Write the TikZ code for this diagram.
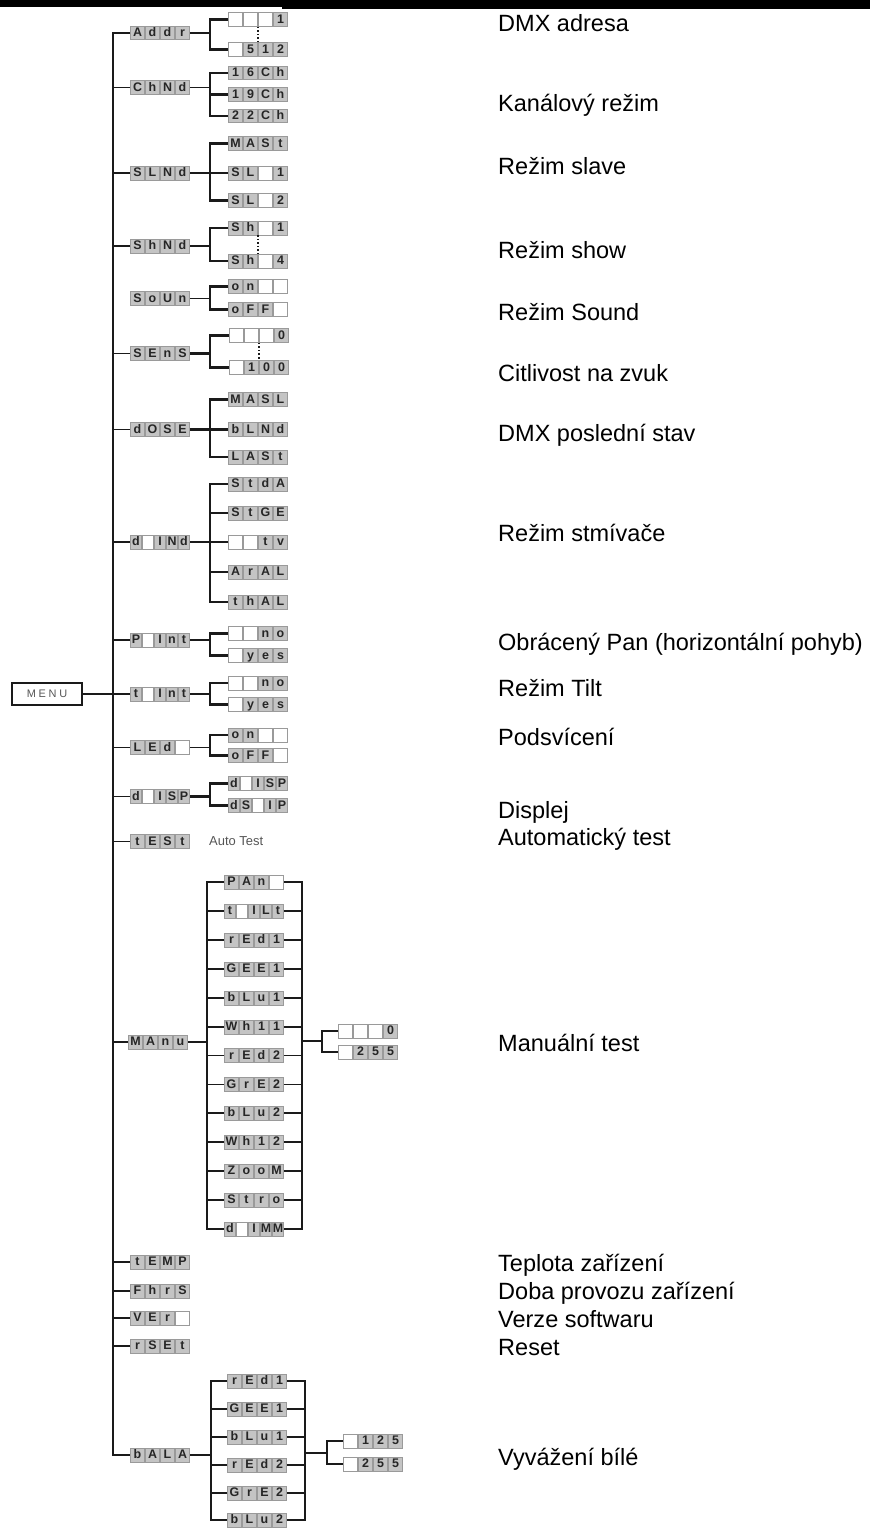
\documentclass[tikz,border=0pt]{standalone}
\usepackage{fontspec}
\setmainfont{Liberation Sans}
\newfontfamily\lcdfont{Liberation Sans}
\newfontfamily\menufont{Liberation Sans}[LetterSpace=25]
\definecolor{lcdbg}{HTML}{C4C4C4}
\definecolor{lcdtext}{HTML}{262626}
\definecolor{cellbd}{HTML}{9A9A9A}
\definecolor{lineblack}{HTML}{1A1A1A}
\definecolor{softgray}{HTML}{555555}
\newlength\cw
\setlength\cw{13.8bp}
\newcommand\lcdc[1]{{\setlength\fboxsep{0pt}\setlength\fboxrule{0.6bp}\fcolorbox{cellbd}{lcdbg}{\makebox[\cw]{\rule[-2.6bp]{0pt}{13bp}#1}}}}
\newcommand\lcdb{{\setlength\fboxsep{0pt}\setlength\fboxrule{0.6bp}\fcolorbox{cellbd}{white}{\makebox[\cw]{\rule[-2.6bp]{0pt}{13bp}}}}}
\newcommand\cellx[1]{\if\relax\detokenize{#1}\relax\lcdb\else\lcdc{#1}\fi}
\newcommand\dispfour[4]{\cellx{#1}\cellx{#2}\cellx{#3}\cellx{#4}}
\newcommand\dispfive[5]{\setlength\cw{10.8bp}\cellx{#1}\cellx{#2}\cellx{#3}\cellx{#4}\cellx{#5}}
\begin{document}
\begin{tikzpicture}[x=1bp,y=-1bp,
  lcd/.style={inner sep=0pt, outer sep=0pt, text=lcdtext, font=\lcdfont\bfseries\fontsize{12.5}{13}\selectfont},
  conn/.style={line width=1.4bp, draw=lineblack},
  brk/.style={line width=2.2bp, draw=lineblack},
  dotline/.style={line width=1.6bp, draw=lineblack, dotted},
  rlbl/.style={anchor=base west, inner sep=0pt, font=\fontsize{23.6}{28}\selectfont, text=black},
  menubox/.style={draw=lineblack, line width=1.3bp, minimum width=70bp, minimum height=22bp, inner sep=0pt, text=softgray, font=\menufont\fontsize{11}{12}\selectfont}
]
\useasboundingbox (0,0) rectangle (870,1528);
\clip (0,0) rectangle (870,1528);
\fill[black] (0,0) rectangle (282,7.5);
\fill[black] (282,0) rectangle (870,9.5);

\coordinate (tbot) at (113,1455);
\coordinate (bk) at (210,0);

% ---------- level 1 ----------
\node[lcd] (adda) at (160,33) {\dispfour{A}{d}{d}{r}};
\node[lcd] (chnd) at (160,87.5) {\dispfour{C}{h}{N}{d}};
\node[lcd] (slnd) at (160,173) {\dispfour{S}{L}{N}{d}};
\node[lcd] (shnd) at (160,246) {\dispfour{S}{h}{N}{d}};
\node[lcd] (soun) at (160,298.5) {\dispfour{S}{o}{U}{n}};
\node[lcd] (sens) at (160,353.5) {\dispfour{S}{E}{n}{S}};
\node[lcd] (dose) at (160,429.5) {\dispfour{d}{O}{S}{E}};
\node[lcd] (dimd) at (160,542) {\dispfive{d}{}{I}{N}{d}};
\node[lcd] (pint) at (160,640) {\dispfive{P}{}{I}{n}{t}};
\node[lcd] (tint) at (160,694) {\dispfive{t}{}{I}{n}{t}};
\node[lcd] (led) at (160,747.5) {\dispfour{L}{E}{d}{}};
\node[lcd] (disp) at (160,796.5) {\dispfive{d}{}{I}{S}{P}};
\node[lcd] (test) at (160,841.5) {\dispfour{t}{E}{S}{t}};
\node[lcd] (manu) at (158,1042) {\dispfour{M}{A}{n}{u}};
\node[lcd] (temp) at (160,1262) {\dispfour{t}{E}{M}{P}};
\node[lcd] (fhrs) at (160,1291) {\dispfour{F}{h}{r}{S}};
\node[lcd] (ver) at (160,1318) {\dispfour{V}{E}{r}{}};
\node[lcd] (rset) at (160,1346) {\dispfour{r}{S}{E}{t}};
\node[lcd] (bala) at (160,1455) {\dispfour{b}{A}{L}{A}};

\node[menubox] (menu) at (47,694) {MENU};
\node[anchor=west, inner sep=0pt, text=softgray, font=\fontsize{13}{14}\selectfont] (autotest) at (209,841.5) {Auto Test};

% trunk
\draw[conn] (adda.west) -| (tbot) -- (bala.west);
\foreach \n in {chnd,slnd,shnd,sens,dose,dimd,pint,tint,led,disp,test,manu,temp,fhrs,ver,rset}
  \draw[conn] (\n.west) -- (\n.west -| tbot);
\draw[conn] (menu.east) -- (menu.east -| tbot);

% ---------- sub items ----------
\node[lcd] (a1) at (258,19.5) {\dispfour{}{}{}{1}};
\node[lcd] (a2) at (258,49.5) {\dispfour{}{5}{1}{2}};
\node[lcd] (c1) at (258,73) {\dispfour{1}{6}{C}{h}};
\node[lcd] (c2) at (258,94.5) {\dispfour{1}{9}{C}{h}};
\node[lcd] (c3) at (258,116) {\dispfour{2}{2}{C}{h}};
\node[lcd] (s1) at (258,143.5) {\dispfour{M}{A}{S}{t}};
\node[lcd] (s2) at (258,173) {\dispfour{S}{L}{}{1}};
\node[lcd] (s3) at (258,200.5) {\dispfour{S}{L}{}{2}};
\node[lcd] (h1) at (258,228) {\dispfour{S}{h}{}{1}};
\node[lcd] (h2) at (258,261) {\dispfour{S}{h}{}{4}};
\node[lcd] (o1) at (258,286.5) {\dispfour{o}{n}{}{}};
\node[lcd] (o2) at (258,309.5) {\dispfour{o}{F}{F}{}};
\node[lcd] (e1) at (259,335.5) {\dispfour{}{}{}{0}};
\node[lcd] (e2) at (259,367.5) {\dispfour{}{1}{0}{0}};
\node[lcd] (d1) at (258,399.5) {\dispfour{M}{A}{S}{L}};
\node[lcd] (d2) at (258,429.5) {\dispfour{b}{L}{N}{d}};
\node[lcd] (d3) at (258,457) {\dispfour{L}{A}{S}{t}};
\node[lcd] (i1) at (258,484) {\dispfour{S}{t}{d}{A}};
\node[lcd] (i2) at (258,513) {\dispfour{S}{t}{G}{E}};
\node[lcd] (i3) at (258,542) {\dispfour{}{}{t}{v}};
\node[lcd] (i4) at (258,572) {\dispfour{A}{r}{A}{L}};
\node[lcd] (i5) at (258,602) {\dispfour{t}{h}{A}{L}};
\node[lcd] (p1) at (258,633.5) {\dispfour{}{}{n}{o}};
\node[lcd] (p2) at (258,655.5) {\dispfour{}{y}{e}{s}};
\node[lcd] (t1) at (258,683) {\dispfour{}{}{n}{o}};
\node[lcd] (t2) at (258,704.5) {\dispfour{}{y}{e}{s}};
\node[lcd] (l1) at (258,735) {\dispfour{o}{n}{}{}};
\node[lcd] (l2) at (258,755.5) {\dispfour{o}{F}{F}{}};
\node[lcd] (q1) at (258,783.5) {\dispfive{d}{}{I}{S}{P}};
\node[lcd] (q2) at (258,805.5) {\dispfive{d}{S}{}{I}{P}};

% two-level brackets
\draw[brk] (adda.east) -- (adda.east -| bk);
\draw[brk] (a1.west) -- (a1.west -| bk) -- (a2.west -| bk) -- (a2.west);
\draw[dotline] (a1.south) -- (a2.north);
\draw[conn] (chnd.east) -- (chnd.east -| bk);
\draw[brk] (c1.west) -- (c1.west -| bk) -- (c3.west -| bk) -- (c3.west);
\draw[brk] (c2.west) -- (c2.west -| bk);
\draw[brk] (slnd.east) -- (slnd.east -| bk);
\draw[brk] (s1.west) -- (s1.west -| bk) -- (s3.west -| bk) -- (s3.west);
\draw[brk] (s2.west) -- (s2.west -| bk);
\draw[conn] (shnd.east) -- (shnd.east -| bk);
\draw[brk] (h1.west) -- (h1.west -| bk) -- (h2.west -| bk) -- (h2.west);
\draw[dotline] (h1.south) -- (h2.north);
\draw[conn] (soun.east) -- (soun.east -| bk);
\draw[brk] (o1.west) -- (o1.west -| bk) -- (o2.west -| bk) -- (o2.west);
\draw[brk] (sens.east) -- (sens.east -| bk);
\draw[brk] (e1.west) -- (e1.west -| bk) -- (e2.west -| bk) -- (e2.west);
\draw[dotline] (e1.south) -- (e2.north);
\draw[brk] (dose.east) -- (dose.east -| bk);
\draw[brk] (d1.west) -- (d1.west -| bk) -- (d3.west -| bk) -- (d3.west);
\draw[brk] (d2.west) -- (d2.west -| bk);
\draw[brk] (dimd.east) -- (dimd.east -| bk);
\draw[brk] (i1.west) -- (i1.west -| bk) -- (i5.west -| bk) -- (i5.west);
\foreach \n in {i2,i3,i4} \draw[brk] (\n.west) -- (\n.west -| bk);
\draw[brk] (pint.east) -- (pint.east -| bk);
\draw[brk] (p1.west) -- (p1.west -| bk) -- (p2.west -| bk) -- (p2.west);
\draw[conn] (tint.east) -- (tint.east -| bk);
\draw[brk] (t1.west) -- (t1.west -| bk) -- (t2.west -| bk) -- (t2.west);
\draw[conn] (led.east) -- (led.east -| bk);
\draw[brk] (l1.west) -- (l1.west -| bk) -- (l2.west -| bk) -- (l2.west);
\draw[brk] (disp.east) -- (disp.east -| bk);
\draw[brk] (q1.west) -- (q1.west -| bk) -- (q2.west -| bk) -- (q2.west);

% ---------- manual test ----------
\coordinate (ml) at (207,0);
\coordinate (mr) at (302,0);
\coordinate (mvb) at (322,0);
\node[lcd] (m0) at (254,882) {\dispfour{P}{A}{n}{}};
\node[lcd] (m1) at (254,911) {\dispfive{t}{}{I}{L}{t}};
\node[lcd] (m2) at (254,940) {\dispfour{r}{E}{d}{1}};
\node[lcd] (m3) at (254,969) {\dispfour{G}{E}{E}{1}};
\node[lcd] (m4) at (254,998) {\dispfour{b}{L}{u}{1}};
\node[lcd] (m5) at (254,1027) {\dispfour{W}{h}{1}{1}};
\node[lcd] (m6) at (254,1055.5) {\dispfour{r}{E}{d}{2}};
\node[lcd] (m7) at (254,1084.5) {\dispfour{G}{r}{E}{2}};
\node[lcd] (m8) at (254,1113) {\dispfour{b}{L}{u}{2}};
\node[lcd] (m9) at (254,1142) {\dispfour{W}{h}{1}{2}};
\node[lcd] (m10) at (254,1171) {\dispfour{Z}{o}{o}{M}};
\node[lcd] (m11) at (254,1200) {\dispfour{S}{t}{r}{o}};
\node[lcd] (m12) at (254,1229) {\dispfive{d}{}{I}{M}{M}};
\draw[brk] (manu.east) -- (manu.east -| ml);
\draw[brk] (m0.west) -- (m0.west -| ml) -- (m12.west -| ml) -- (m12.west);
\draw[brk] (m0.east) -- (m0.east -| mr) -- (m12.east -| mr) -- (m12.east);
\foreach \n in {m1,m2,m3,m4,m5,m6,m7,m8,m9,m10,m11} {
  \draw[conn] (\n.west) -- (\n.west -| ml);
  \draw[conn] (\n.east) -- (\n.east -| mr);
}
\node[lcd] (mv1) at (368,1031) {\dispfour{}{}{}{0}};
\node[lcd] (mv2) at (368,1052) {\dispfour{}{2}{5}{5}};
\coordinate (mj) at (302,1041);
\draw[brk] (mj) -- (mj -| mvb);
\draw[conn] (mv1.west) -- (mv1.west -| mvb) -- (mv2.west -| mvb) -- (mv2.west);

% ---------- white balance ----------
\coordinate (bl) at (211,0);
\coordinate (br) at (305,0);
\coordinate (bvb) at (327,0);
\node[lcd] (b0) at (257,1381) {\dispfour{r}{E}{d}{1}};
\node[lcd] (b1) at (257,1409) {\dispfour{G}{E}{E}{1}};
\node[lcd] (b2) at (257,1437) {\dispfour{b}{L}{u}{1}};
\node[lcd] (b3) at (257,1465) {\dispfour{r}{E}{d}{2}};
\node[lcd] (b4) at (257,1493) {\dispfour{G}{r}{E}{2}};
\node[lcd] (b5) at (257,1520) {\dispfour{b}{L}{u}{2}};
\draw[brk] (bala.east) -- (bala.east -| bl);
\draw[brk] (b0.west) -- (b0.west -| bl) -- (b5.west -| bl) -- (b5.west);
\draw[brk] (b0.east) -- (b0.east -| br) -- (b5.east -| br) -- (b5.east);
\foreach \n in {b1,b2,b3,b4} {
  \draw[conn] (\n.west) -- (\n.west -| bl);
  \draw[conn] (\n.east) -- (\n.east -| br);
}
\node[lcd] (bv1) at (373,1441) {\dispfour{}{1}{2}{5}};
\node[lcd] (bv2) at (373,1464) {\dispfour{}{2}{5}{5}};
\coordinate (bj) at (305,1453);
\draw[conn] (bj) -- (bj -| bvb);
\draw[brk] (bv1.west) -- (bv1.west -| bvb) -- (bv2.west -| bvb) -- (bv2.west);

% ---------- right-hand labels ----------
\node[rlbl] (r1) at (498,31.7) {DMX adresa};
\node[rlbl] (r2) at (498,112) {Kanálový režim};
\node[rlbl] (r3) at (498,174) {Režim slave};
\node[rlbl] (r4) at (498,258) {Režim show};
\node[rlbl] (r5) at (498,320) {Režim Sound};
\node[rlbl] (r6) at (498,381) {Citlivost na zvuk};
\node[rlbl] (r7) at (498,441) {DMX poslední stav};
\node[rlbl] (r8) at (498,541) {Režim stmívače};
\node[rlbl] (r9) at (498,650) {Obrácený Pan (horizontální pohyb)};
\node[rlbl] (r10) at (498,696) {Režim Tilt};
\node[rlbl] (r11) at (498,745) {Podsvícení};
\node[rlbl] (r12) at (498,818) {Displej};
\node[rlbl] (r13) at (498,845) {Automatický test};
\node[rlbl] (r14) at (498,1051) {Manuální test};
\node[rlbl] (r15) at (498,1271) {Teplota zařízení};
\node[rlbl] (r16) at (498,1299) {Doba provozu zařízení};
\node[rlbl] (r17) at (498,1327) {Verze softwaru};
\node[rlbl] (r18) at (498,1355) {Reset};
\node[rlbl] (r19) at (498,1465) {Vyvážení bílé};
\end{tikzpicture}
\end{document}
